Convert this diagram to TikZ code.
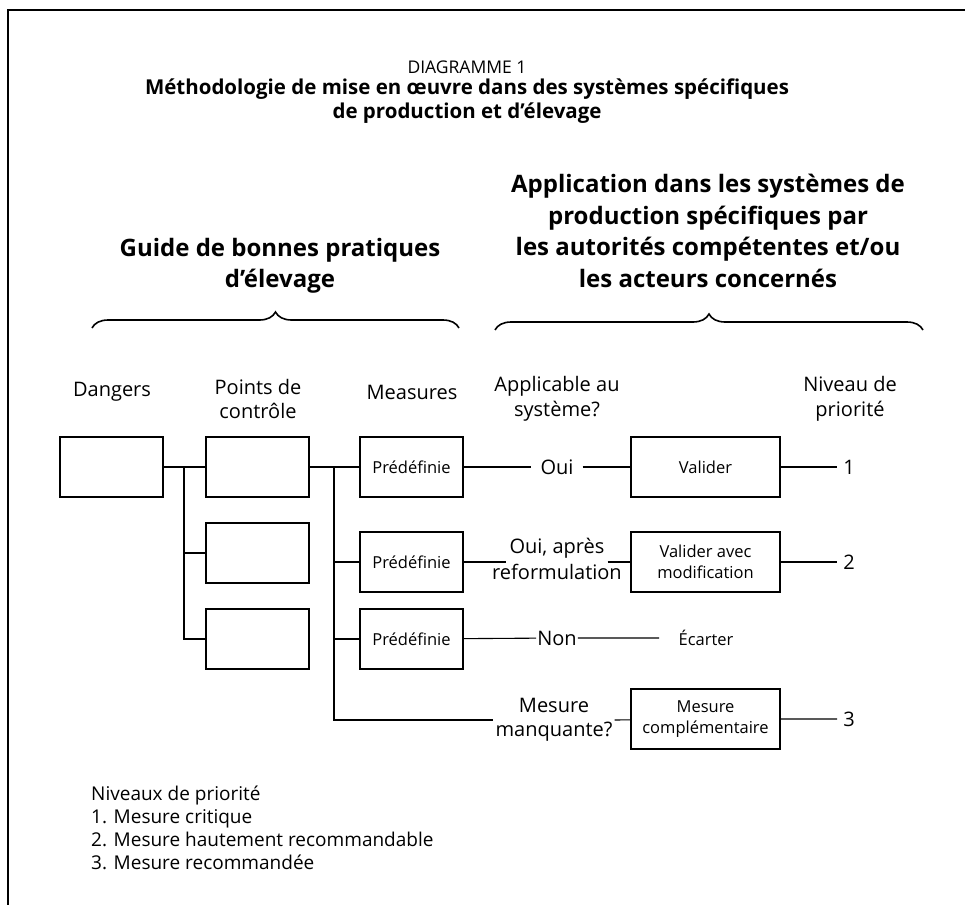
\documentclass[tikz,border=0pt]{standalone}
\usepackage{fontspec}
\setmainfont{Open Sans}
\usetikzlibrary{positioning,decorations.pathreplacing}

\begin{document}
\begin{tikzpicture}[x=1pt,y=-1pt,
        every node/.style = {align=center, font=\fontsize{20}{24.5}\selectfont},
        box/.style = {draw, line width=1.1pt, minimum width=103pt, minimum height=60pt, inner sep=0pt},
        wide/.style = {box, minimum width=149pt, font=\fontsize{16.5}{21}\selectfont},
        small/.style = {font=\fontsize{16.5}{21}\selectfont},
        head/.style = {font=\bfseries\fontsize{24}{31.5}\selectfont},
        line/.style = {line width=1.1pt},
        curly/.style = {line width=1.6pt, decorate, decoration={brace, amplitude=16pt}}
    ]
    \useasboundingbox (0,0) rectangle (965,904);
    \draw[line width=1.4pt] (8,930) |- (990,10);

    % titre
    \node[font=\fontsize{17.5}{22}\selectfont] (titre) at (467,67) {DIAGRAMME 1};
    \node[font=\bfseries\fontsize{20.5}{23.5}\selectfont] (soustitre) at (467,101)
        {Méthodologie de mise en œuvre dans des systèmes spécifiques\\de production et d’élevage};

    % en-tetes et accolades
    \node[head] (guide) at (280,266) {Guide de bonnes pratiques\\d’élevage};
    \node[head] (appli) at (708,231) {Application dans les systèmes de\\production spécifiques par\\les autorités compétentes et/ou\\les acteurs concernés};
    \draw[curly] (92,328) -- (459,328);
    \draw[curly] (495,330) -- (923,330);

    % colonnes
    \node (hdang) at (112,392) {Dangers};
    \node (hpts) at (258,399) {Points de\\contrôle};
    \node (hmes) at (412,392) {Measures};
    \node (happ) at (557,399) {Applicable au\\système?};
    \node (hniv) at (850,399) {Niveau de\\priorité};

    % boites
    \node[box] (dang) at (111.5,467) {};
    \node[box] (pc1) at (257.5,467) {};
    \node[box] (pc2) at (257.5,553) {};
    \node[box] (pc3) at (257.5,639) {};
    \node[box, small] (mes1) at (411.5,467) {Prédéfinie};
    \node[box, small] (mes2) at (411.5,562) {Prédéfinie};
    \node[box, small] (mes3) at (411.5,639) {Prédéfinie};
    \node[wide] (val) at (705.5,467) {Valider};
    \node[wide] (valmod) at (705.5,562) {Valider avec\\modification};
    \node[wide] (mescomp) at (705.5,719) {Mesure\\complémentaire};

    % reponses
    \node[inner sep=9pt] (oui) at (557,467) {Oui};
    \node[inner sep=3pt] (ouiap) at (557,548) {Oui, après};
    \node (reform) at (557,572) {reformulation};
    \node[inner sep=1pt] (non) at (557,638) {Non};
    \node[small] (ecart) at (706,638) {Écarter};
    \node[inner sep=2pt] (manq) at (554,720) {Mesure\\manquante?};

    % niveaux
    \node[inner sep=6pt] (niv1) at (849,467) {1};
    \node[inner sep=6pt] (niv2) at (849,562) {2};
    \node[inner sep=6pt] (niv3) at (849,719) {3};

    % liaisons
    \coordinate (tr1) at (184,467);
    \coordinate (tr2) at (334,467);
    \draw[line] (dang) -- (pc1);
    \draw[line] (tr1) |- (pc3.west);
    \draw[line] (tr1 |- pc2.west) -- (pc2.west);
    \draw[line] (pc1) -- (mes1);
    \draw[line] (tr2) |- (manq.west);
    \draw[line] (tr2 |- mes2.west) -- (mes2.west);
    \draw[line] (tr2 |- mes3.west) -- (mes3.west);
    \draw[line] (mes1) -- (oui) -- (val) -- (niv1);
    \draw[line] (mes2) -- (mes2 -| ouiap.west);
    \draw[line] (ouiap.east |- valmod) -- (valmod) -- (niv2);
    \draw[line] (mes3) -- (non) -- ([xshift=-16pt]ecart.west);
    \draw[line] (manq.east) -- (mescomp) -- (niv3);

    % legende
    \node[anchor=north west, align=left, inner sep=0pt, font=\fontsize{19}{23}\selectfont] (legende) at (91,786)
        {Niveaux de priorité\\1. Mesure critique\\2. Mesure hautement recommandable\\3. Mesure recommandée};
\end{tikzpicture}
\end{document}
